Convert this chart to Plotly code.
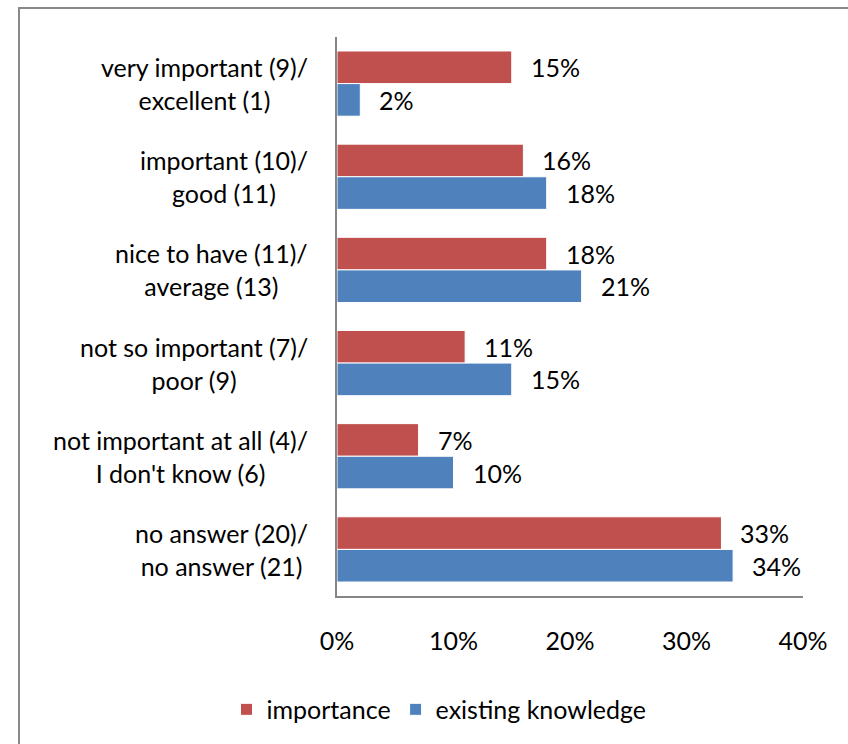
import plotly.graph_objects as go

# Survey results: rated importance vs. existing knowledge (share of respondents, %)
categories = [
    "very important (9)/<br>excellent (1)",
    "important (10)/<br>good (11)",
    "nice to have (11)/<br>average (13)",
    "not so important (7)/<br>poor (9)",
    "not important at all (4)/<br>I don't know (6)",
    "no answer (20)/<br>no answer (21)",
]
importance = [15, 16, 18, 11, 7, 33]
existing_knowledge = [2, 18, 21, 15, 10, 34]
x_ticks = [0, 10, 20, 30, 40]
x_tick_labels = [f"{t}%" for t in x_ticks]

FONT = "Lato, 'Open Sans', sans-serif"
FS = 25
RED = "#C0504D"
BLUE = "#4F81BD"
AXIS = "#868686"

W, H = 848, 744
L, R, T, B = 337, 45, 37, 146
plot_w = W - L - R
plot_h = H - T - B

fig = go.Figure()
fig.add_trace(go.Bar(
    y=categories, x=importance, name="importance", orientation="h",
    marker=dict(color=RED, line=dict(color="white", width=1)),
))
fig.add_trace(go.Bar(
    y=categories, x=existing_knowledge, name="existing knowledge", orientation="h",
    marker=dict(color=BLUE, line=dict(color="white", width=1)),
))

bargap = 0.30
half_bar = (1 - bargap) * (plot_h / len(categories)) / 4

annotations = []
# value labels to the right of each bar
for series, shift in ((importance, half_bar), (existing_knowledge, -half_bar)):
    for cat, v in zip(categories, series):
        annotations.append(dict(
            x=v, y=cat, xref="x", yref="y", text=f"{v}%", showarrow=False,
            xanchor="left", yanchor="middle", xshift=17, yshift=shift,
            font=dict(family=FONT, size=FS, color="#000000"),
        ))

# category labels, each two-line block centred on itself
for cat in categories:
    annotations.append(dict(
        x=0, y=cat, xref="x", yref="y", text=cat, showarrow=False,
        xanchor="right", yanchor="middle", xshift=-27, align="center",
        font=dict(family=FONT, size=FS, color="#000000"),
    ))

fig.update_layout(
    width=W, height=H,
    margin=dict(l=L, r=R, t=T, b=B, pad=0),
    paper_bgcolor="white", plot_bgcolor="white",
    barmode="group", bargap=bargap, bargroupgap=0,
    font=dict(family=FONT, size=FS, color="#000000"),
    showlegend=True,
    legend=dict(
        orientation="h", x=(439 - L) / plot_w, xanchor="center",
        y=(H - B - 712) / plot_h, yanchor="middle",
        font=dict(family=FONT, size=FS, color="#000000"),
        itemwidth=30, traceorder="normal",
    ),
    annotations=annotations,
    shapes=[dict(
        type="rect", xref="paper", yref="paper",
        x0=(19 - L) / plot_w, x1=(W + 20 - L) / plot_w,
        y0=(H - B - (H + 20)) / plot_h, y1=(H - B - 8) / plot_h,
        line=dict(color="#898989", width=2), fillcolor="rgba(0,0,0,0)",
        layer="below",
    )],
)

fig.update_xaxes(
    range=[0, 40], tickvals=x_ticks, ticktext=x_tick_labels,
    showgrid=False, zeroline=False,
    showline=True, linecolor=AXIS, linewidth=2,
    ticks="", ticklabelstandoff=22,
    tickfont=dict(family=FONT, size=FS, color="#000000"),
    fixedrange=True,
)
fig.update_yaxes(
    autorange="reversed", showticklabels=False,
    showgrid=False, zeroline=False,
    showline=True, linecolor=AXIS, linewidth=2, ticks="",
    fixedrange=True,
)

fig.write_html("out.html")
